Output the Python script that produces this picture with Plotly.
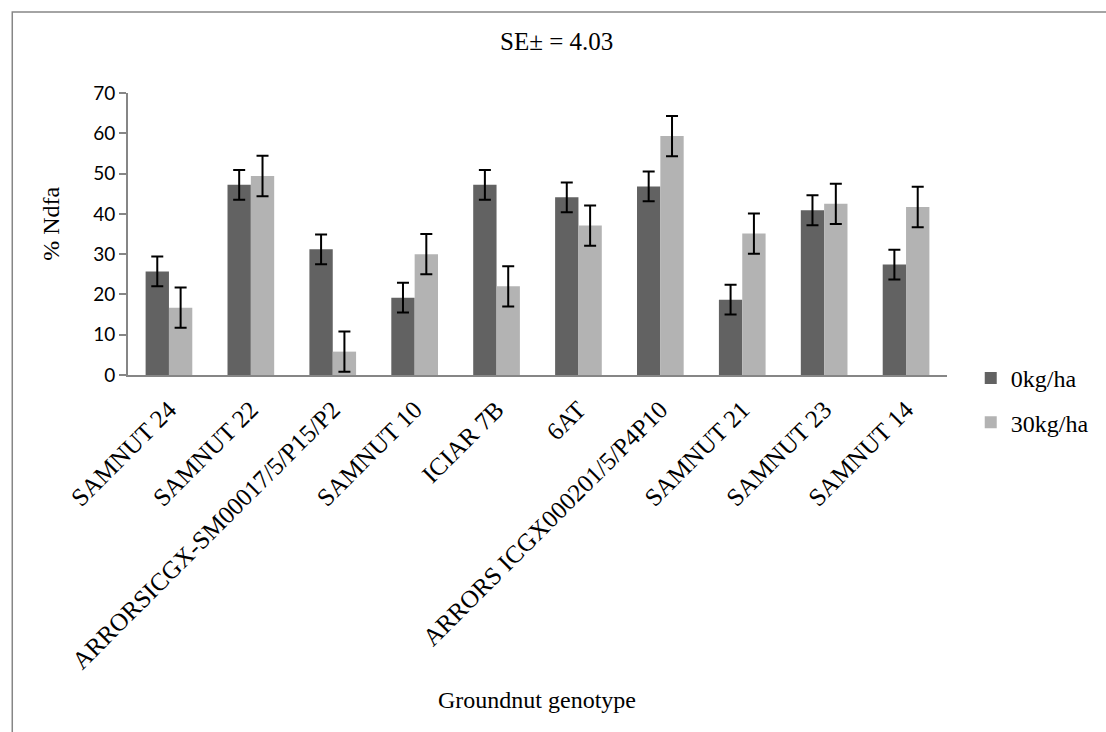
import plotly.graph_objects as go

# Groundnut genotypes and % Ndfa at two N rates
genotypes = [
    "SAMNUT 24", "SAMNUT 22", "ARRORSICGX-SM00017/5/P15/P2", "SAMNUT 10",
    "ICIAR 7B", "6AT", "ARRORS ICGX000201/5/P4P10", "SAMNUT 21",
    "SAMNUT 23", "SAMNUT 14",
]
ndfa_0kg = [25.7, 47.2, 31.2, 19.2, 47.2, 44.1, 46.8, 18.7, 40.9, 27.4]
ndfa_30kg = [16.7, 49.4, 5.8, 30.0, 22.0, 37.1, 59.3, 35.1, 42.5, 41.7]
err_0kg = [3.7, 3.7, 3.7, 3.7, 3.7, 3.7, 3.7, 3.7, 3.7, 3.7]
err_30kg = [5.0, 5.0, 5.0, 5.0, 5.0, 5.0, 5.0, 5.0, 5.0, 5.0]
y_ticks = [0, 10, 20, 30, 40, 50, 60, 70]

SERIF = "Liberation Serif, Times New Roman, serif"
SANS = "Lato, Carlito, Calibri, sans-serif"
GRAY = "#868686"

# plot area in pixels: x 128..956, y 93..375
L, R, T, B = 128, 956, 93, 375
W, H = R - L, B - T


def px_x(p):
    return (p - L) / W


def px_y(p):
    return (B - p) / H


fig = go.Figure()
fig.add_trace(go.Bar(
    x=genotypes, y=ndfa_0kg, name="0kg/ha",
    marker=dict(color="#626262", line=dict(width=0)),
    error_y=dict(type="data", array=err_0kg, color="black", thickness=2, width=6),
    legendgroup="a",
))
fig.add_trace(go.Bar(
    x=genotypes, y=ndfa_30kg, name="30kg/ha",
    marker=dict(color="#b3b3b3", line=dict(width=0)),
    error_y=dict(type="data", array=err_30kg, color="black", thickness=2, width=6),
    legendgroup="b",
))

fig.update_layout(
    width=1106, height=732,
    margin=dict(l=L, r=1106 - R, t=T, b=732 - B),
    paper_bgcolor="white", plot_bgcolor="white",
    barmode="group", bargap=0.43, bargroupgap=0,
    showlegend=True,
    legend=dict(
        x=px_x(980), xanchor="left", y=px_y(356), yanchor="top",
        font=dict(family=SERIF, size=24, color="black"),
        traceorder="grouped", tracegroupgap=10,
        itemwidth=30, bgcolor="rgba(0,0,0,0)",
    ),
    xaxis=dict(
        showline=True, linecolor=GRAY, linewidth=2, ticks="",
        tickangle=-45, showgrid=False, ticklabelstandoff=8,
        tickfont=dict(family=SERIF, size=25, color="black"),
    ),
    yaxis=dict(
        range=[0, 70], tickvals=y_ticks, showline=True, linecolor=GRAY, linewidth=2,
        ticks="outside", ticklen=7, tickcolor=GRAY, tickwidth=2,
        showgrid=False, zeroline=False,
        tickfont=dict(family=SANS, size=19, color="black"),
    ),
    shapes=[
        dict(type="rect", xref="paper", yref="paper",
             x0=px_x(11), x1=2.0, y0=-2.0, y1=px_y(12),
             line=dict(color=GRAY, width=1.5), fillcolor="rgba(0,0,0,0)", layer="below"),
    ],
    annotations=[
        dict(text="SE\u00b1 = 4.03", xref="paper", yref="paper",
             x=px_x(561), y=px_y(42), xanchor="center", yanchor="middle", showarrow=False,
             font=dict(family=SERIF, size=25, color="black")),
        dict(text="% Ndfa", xref="paper", yref="paper",
             x=px_x(50), y=px_y(224), xanchor="center", yanchor="middle",
             textangle=-90, showarrow=False,
             font=dict(family=SERIF, size=24, color="black")),
        dict(text="Groundnut genotype", xref="paper", yref="paper",
             x=px_x(541), y=px_y(700), xanchor="center", yanchor="middle", showarrow=False,
             font=dict(family=SERIF, size=24, color="black")),
    ],
)

fig.write_html("out.html")
